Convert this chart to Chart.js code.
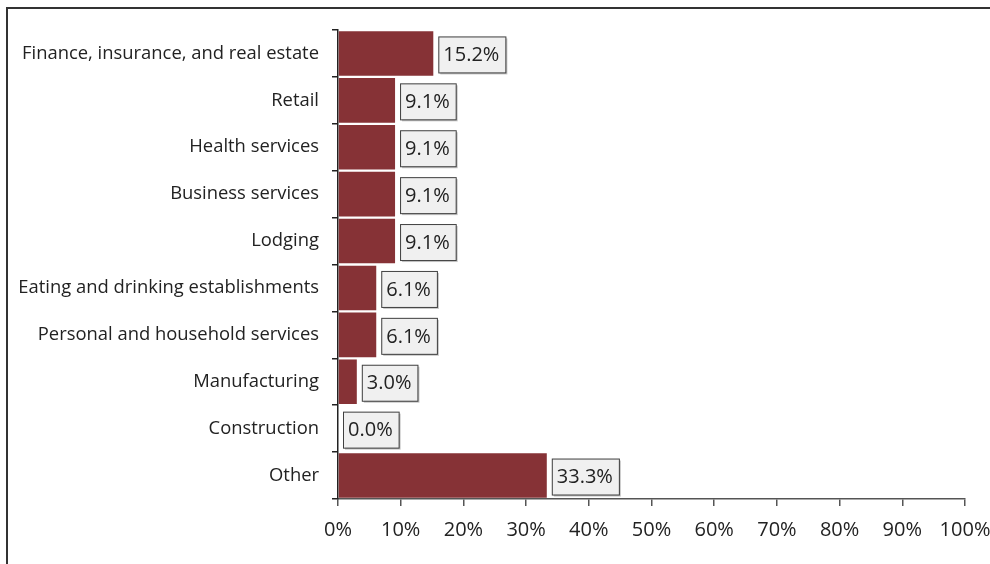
<!DOCTYPE html>
<html>
<head>
<meta charset="utf-8">
<script src="https://cdn.jsdelivr.net/npm/chart.js@4.4.1/dist/chart.umd.min.js"></script>
<style>
  html, body { margin: 0; padding: 0; background: #fff; }
  #wrap { position: relative; width: 990px; height: 564px; overflow: hidden; }
  #frame { position: absolute; left: 6px; top: 7px; width: 1100px; height: 700px; border: 2px solid #333; box-sizing: border-box; }
  canvas { position: absolute; left: 0; top: 0; }
</style>
</head>
<body>
<div id="wrap">
  <div id="frame"></div>
  <canvas id="chart" width="990" height="564"></canvas>
</div>
<script>
// data
var categories = ["Finance, insurance, and real estate", "Retail", "Health services", "Business services",
  "Lodging", "Eating and drinking establishments", "Personal and household services",
  "Manufacturing", "Construction", "Other"];
var shares = [15.2, 9.1, 9.1, 9.1, 9.1, 6.1, 6.1, 3.0, 0.0, 33.3];
var xTicks = [0, 10, 20, 30, 40, 50, 60, 70, 80, 90, 100];

var barColor = "#863236";
var fontName = "'Open Sans', sans-serif";

// draws the boxed value labels next to each bar
var boxLabels = {
  id: "boxLabels",
  afterDatasetsDraw: function (chart) {
    var ctx = chart.ctx;
    var meta = chart.getDatasetMeta(0);
    ctx.save();
    ctx.font = "20px " + fontName;
    ctx.textBaseline = "middle";
    ctx.textAlign = "left";
    meta.data.forEach(function (bar, i) {
      var txt = shares[i].toFixed(1) + "%";
      var w = ctx.measureText(txt).width + 11;
      var h = 36;
      var x = bar.x + 5;
      var y = bar.y - h / 2 + 1;
      ctx.fillStyle = "#c8c8c8";
      ctx.fillRect(x + 2, y + 2, w, h);
      ctx.fillStyle = "#f0f0f0";
      ctx.fillRect(x, y, w, h);
      ctx.strokeStyle = "#404040";
      ctx.lineWidth = 1;
      ctx.strokeRect(x + 0.5, y + 0.5, w, h);
      ctx.fillStyle = "#222";
      ctx.fillText(txt, x + 5, y + h / 2 + 1);
    });
    ctx.restore();
  }
};

var chart = new Chart(document.getElementById("chart"), {
  type: "bar",
  data: {
    labels: categories,
    datasets: [{
      data: shares,
      backgroundColor: barColor,
      borderWidth: 0,
      barPercentage: 0.95,
      categoryPercentage: 1.0
    }]
  },
  options: {
    indexAxis: "y",
    responsive: false,
    animation: false,
    layout: { padding: { left: 0, right: 25, top: 30, bottom: 0 } },
    plugins: { legend: { display: false }, tooltip: { enabled: false } },
    scales: {
      x: {
        min: 0,
        max: 100,
        afterBuildTicks: function (scale) {
          scale.ticks = xTicks.map(function (v) { return { value: v }; });
        },
        afterFit: function (scale) { scale.height = 65; scale.paddingRight = 0; },
        border: { color: "#555", width: 1.5 },
        grid: { drawOnChartArea: false, tickLength: 7, color: "#555", lineWidth: 1.5 },
        ticks: {
          color: "#222",
          font: { family: fontName, size: 20 },
          padding: 12,
          callback: function (v) { return v + "%"; }
        }
      },
      y: {
        afterFit: function (scale) { scale.width = 338; },
        border: { color: "#222", width: 1.5 },
        grid: { drawOnChartArea: false, offset: true, tickLength: 6, color: "#222", lineWidth: 1.5 },
        ticks: {
          color: "#222",
          font: { family: fontName, size: 18.4 },
          padding: 13
        }
      }
    }
  },
  plugins: [boxLabels]
});
</script>
</body>
</html>
